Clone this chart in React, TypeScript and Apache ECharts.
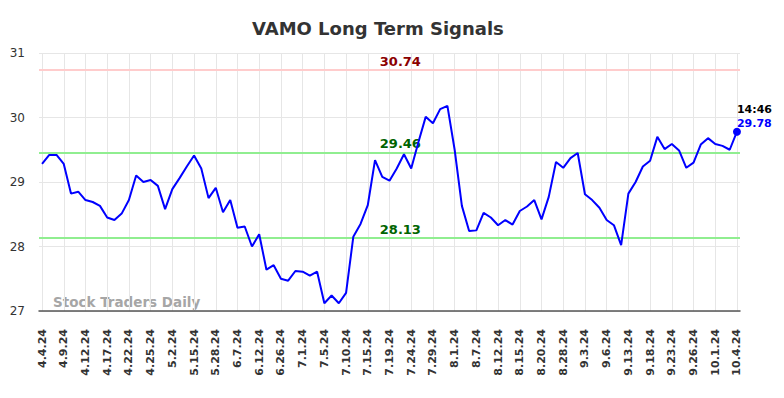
import React, { useEffect, useRef } from "react";
import * as echarts from "echarts";

const TITLE = "VAMO Long Term Signals";
const X_LABELS = [
  "4.4.24", "4.9.24", "4.12.24", "4.17.24", "4.22.24", "4.25.24", "5.2.24", "5.15.24",
  "5.28.24", "6.7.24", "6.12.24", "6.26.24", "7.1.24", "7.5.24", "7.10.24", "7.15.24",
  "7.19.24", "7.24.24", "7.29.24", "8.1.24", "8.7.24", "8.12.24", "8.15.24", "8.20.24",
  "8.28.24", "9.3.24", "9.6.24", "9.13.24", "9.18.24", "9.23.24", "9.26.24", "10.1.24", "10.4.24",
];
const LABEL_STEP = 3;
const PRICES = [
  29.28, 29.42, 29.42, 29.28, 28.82, 28.85, 28.72, 28.69, 28.63, 28.45,
  28.41, 28.51, 28.72, 29.10, 29.00, 29.03, 28.94, 28.58, 28.89, 29.06,
  29.24, 29.41, 29.21, 28.75, 28.91, 28.53, 28.72, 28.29, 28.31, 28.00,
  28.19, 27.64, 27.71, 27.50, 27.47, 27.62, 27.61, 27.55, 27.61, 27.12,
  27.24, 27.12, 27.28, 28.15, 28.35, 28.64, 29.34, 29.08, 29.02, 29.21,
  29.43, 29.21, 29.62, 30.01, 29.91, 30.13, 30.18, 29.50, 28.63, 28.24,
  28.25, 28.52, 28.45, 28.33, 28.41, 28.34, 28.55, 28.62, 28.72, 28.42,
  28.77, 29.31, 29.22, 29.37, 29.45, 28.81, 28.72, 28.60, 28.41, 28.33,
  28.02, 28.82, 29.00, 29.24, 29.33, 29.70, 29.51, 29.59, 29.49, 29.22,
  29.30, 29.58, 29.68, 29.59, 29.56, 29.50, 29.78,
];
const RESISTANCE = 30.74;
const SUPPORTS = [29.46, 28.13];
const LAST_TIME = "14:46";
const Y_MIN = 27;
const Y_MAX = 31;
const LEVEL_LABEL_X = 49.5;

export default function App() {
  const ref = useRef<HTMLDivElement>(null);
  useEffect(() => {
    if (!ref.current) return;
    const chart = echarts.init(ref.current, null, { renderer: "svg" });
    const font = "DejaVu Sans";
    const n = PRICES.length;
    const data = PRICES.map((v, i) => [i, v]);
    const tickVals = X_LABELS.map((_, k) => k * LABEL_STEP);
    const last = PRICES[n - 1];
    chart.setOption({
      animation: false,
      textStyle: { fontFamily: font },
      title: {
        text: TITLE,
        left: 247,
        top: 14,
        textStyle: { fontFamily: font, fontSize: 18, fontWeight: "bold", color: "#333" },
      },
      grid: { left: 39, right: 44, top: 53, bottom: 87, containLabel: false },
      xAxis: {
        type: "value",
        min: -0.42,
        max: n - 1 + 0.42,
        axisLine: { show: true, onZero: false, lineStyle: { color: "#555", width: 1.5 } },
        axisTick: { show: false, customValues: tickVals },
        axisLabel: {
          customValues: tickVals,
          rotate: 90,
          margin: 18,
          fontFamily: font,
          fontSize: 11,
          fontWeight: "bold",
          color: "#333",
          formatter: (v: number) => X_LABELS[Math.round(v / LABEL_STEP)] ?? "",
        },
        splitLine: { show: true, lineStyle: { color: "#e6e6e6", width: 1 } },
      },
      yAxis: {
        type: "value",
        min: Y_MIN,
        max: Y_MAX,
        interval: 1,
        axisLine: { show: false },
        axisTick: { show: false },
        axisLabel: { fontFamily: font, fontSize: 12, color: "#333", margin: 14 },
        splitLine: { show: true, lineStyle: { color: "#e6e6e6", width: 1 } },
      },
      graphic: [
        {
          type: "text",
          left: 53,
          top: 295,
          style: {
            text: "Stock Traders Daily",
            font: `bold 13.5px "${font}"`,
            fill: "#a6a6a6",
          },
        },
      ],
      series: [
        {
          type: "line",
          data,
          showSymbol: false,
          lineStyle: { color: "#0000ff", width: 2 },
          itemStyle: { color: "#0000ff" },
          z: 5,
          markLine: {
            silent: true,
            symbol: "none",
            label: { show: false },
            data: [
              { yAxis: RESISTANCE, lineStyle: { color: "#ffcccc", width: 2, type: "solid" } },
              ...SUPPORTS.map((s) => ({ yAxis: s, lineStyle: { color: "#90ee90", width: 2, type: "solid" } })),
            ],
          },
          markPoint: {
            silent: true,
            data: [
              {
                coord: [LEVEL_LABEL_X, RESISTANCE],
                symbol: "circle",
                symbolSize: 0,
                label: {
                  show: true,
                  position: "top",
                  distance: 2,
                  formatter: RESISTANCE.toFixed(2),
                  fontFamily: font,
                  fontSize: 13,
                  fontWeight: "bold",
                  color: "#8b0000",
                },
              },
              ...SUPPORTS.map((s) => ({
                coord: [LEVEL_LABEL_X, s],
                symbol: "circle",
                symbolSize: 0,
                label: {
                  show: true,
                  position: "top",
                  distance: 2,
                  formatter: s.toFixed(2),
                  fontFamily: font,
                  fontSize: 13,
                  fontWeight: "bold",
                  color: "#006400",
                },
              })),
              {
                coord: [n - 1, last],
                symbol: "circle",
                symbolSize: 8,
                itemStyle: { color: "#0000ff" },
                label: {
                  show: true,
                  position: "top",
                  align: "left",
                  distance: 1,
                  offset: [0, 4],
                  formatter: `{t|${LAST_TIME}}\n{v|${last.toFixed(2)}}`,
                  rich: {
                    t: { fontFamily: font, fontSize: 11, fontWeight: "bold", color: "#000", lineHeight: 14 },
                    v: { fontFamily: font, fontSize: 11, fontWeight: "bold", color: "#0000ff", lineHeight: 14 },
                  },
                },
              },
            ],
          },
        },
      ],
    });
    return () => chart.dispose();
  }, []);
  return <div ref={ref} style={{ width: 784, height: 398, margin: -8 }} />;
}
